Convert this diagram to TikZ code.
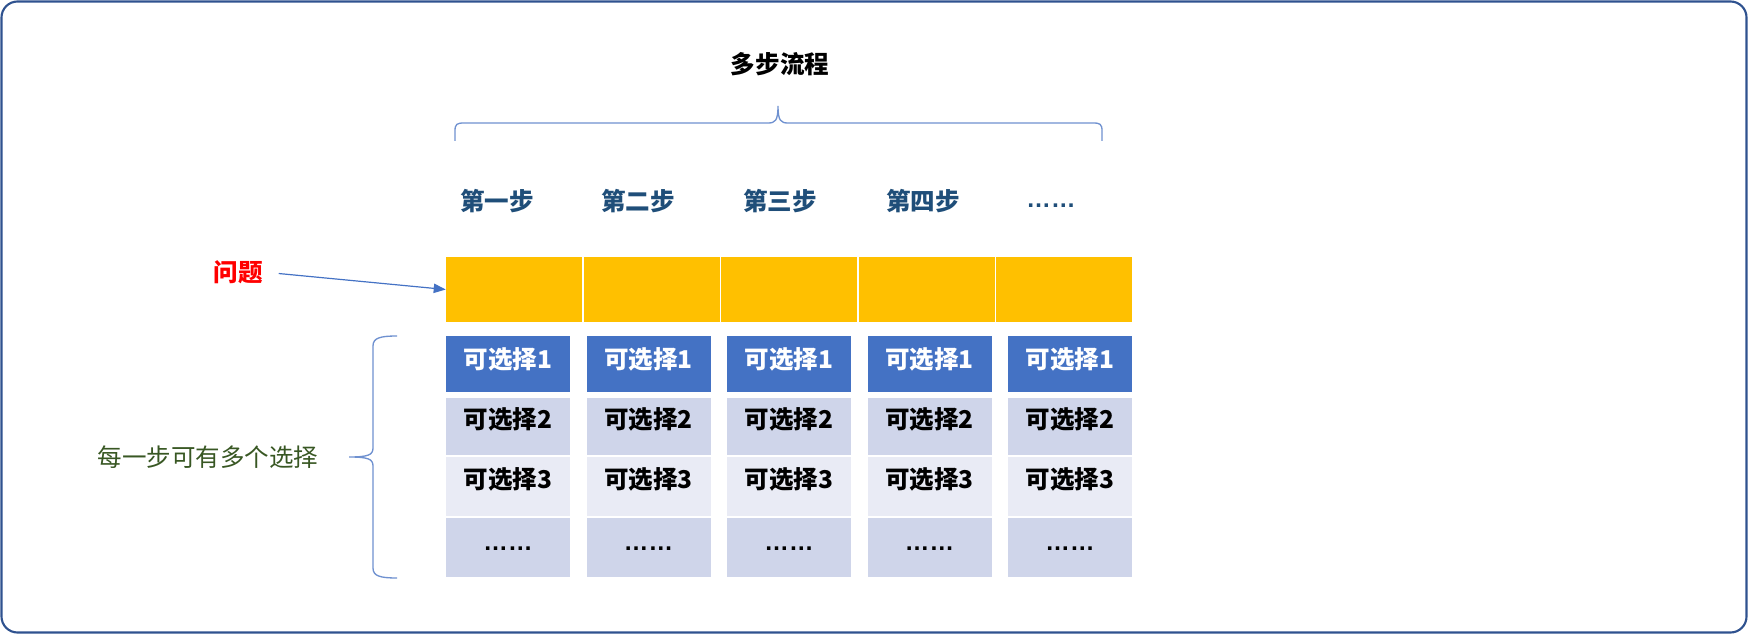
\documentclass[tikz,border=0pt]{standalone}
\usepackage{fontspec}
\setmainfont{Noto Sans CJK SC}
\newfontfamily\latinf{Liberation Sans}
\usetikzlibrary{arrows.meta}
\definecolor{framec}{HTML}{2F528F}
\definecolor{accblue}{HTML}{4472C4}
\definecolor{bracec}{HTML}{6F91D0}
\definecolor{gold}{HTML}{FFC000}
\definecolor{optA}{HTML}{CFD5EA}
\definecolor{optB}{HTML}{E9EBF5}
\definecolor{stepc}{HTML}{1F4E79}
\definecolor{greenc}{HTML}{385723}
\begin{document}
\begin{tikzpicture}[x=0.75pt,y=-0.75pt,
  txt/.style={font=\fontsize{18.4}{22}\selectfont, inner sep=0pt},
  btxt/.style={txt, font=\fontsize{18.4}{22}\selectfont\bfseries},
  ybox/.style={fill=gold, minimum width=102pt, minimum height=48.75pt, inner sep=0pt},
  obox/.style={minimum width=93pt, inner sep=0pt},
  brc/.style={draw=bracec, line width=1pt},
  arr/.style={draw=accblue, line width=0.9pt, -{Triangle[length=9pt,width=7pt]}}]
\useasboundingbox (0,0) rectangle (1748,634);
\draw[framec, line width=1.6pt, rounded corners=12pt] (1.5,1.5) rectangle (1746.5,632.5);

% title and top brace
\node[btxt] (title) at (780,64) {多步流程};
\draw[brc] (455,141) -- (455,131) .. controls (455,124) and (457,123) .. (464,123)
  -- (768,123) .. controls (775,123) and (778,121) .. (778,106)
  .. controls (778,121) and (781,123) .. (788,123)
  -- (1093,123) .. controls (1100,123) and (1102,124) .. (1102,131) -- (1102,141);

% step labels
\node[btxt, text=stepc] (s1) at (497,201) {第一步};
\node[btxt, text=stepc] (s2) at (638,201) {第二步};
\node[btxt, text=stepc] (s3) at (780,201) {第三步};
\node[btxt, text=stepc] (s4) at (923,201) {第四步};
\node[btxt, text=stepc, anchor=base] (s5) at (1051,208) {\latinf\bfseries ……};

% yellow problem row and option columns
\foreach \i in {0,...,4} {
  \pgfmathsetmacro\yx{446+\i*137.5+68}
  \pgfmathsetmacro\ox{446+\i*140.5+62}
  \node[ybox] (y\i) at (\yx,289.5) {};
  \node[obox, fill=accblue, minimum height=42pt] (a\i) at (\ox,364) {};
  \node[obox, fill=optA, minimum height=42.75pt] (b\i) at (\ox,426.5) {};
  \node[obox, fill=optB, minimum height=44.25pt] (c\i) at (\ox,486.5) {};
  \node[obox, fill=optA, minimum height=44.25pt] (d\i) at (\ox,547.5) {};
  \node[btxt, text=white] (ta\i) at (\ox,359) {可选择1};
  \node[btxt] (tb\i) at (\ox,419) {可选择2};
  \node[btxt] (tc\i) at (\ox,479) {可选择3};
  \node[btxt, anchor=base] (td\i) at (\ox,550) {\latinf\bfseries ……};
}

% problem label and arrow
\node[btxt, text=red] (q) at (238,272) {问题};
\draw[arr, shorten <=12pt] (q.east) -- (y0.west);

% left brace and label
\draw[brc] (397,336) .. controls (380,336) and (373,338) .. (373,346)
  -- (373,448) .. controls (373,455) and (368,457) .. (349,457)
  .. controls (368,457) and (373,459) .. (373,466)
  -- (373,568) .. controls (373,576) and (380,578) .. (397,578);
\node[txt, text=greenc] (lbl) at (208,457) {每一步可有多个选择};
\end{tikzpicture}
\end{document}
